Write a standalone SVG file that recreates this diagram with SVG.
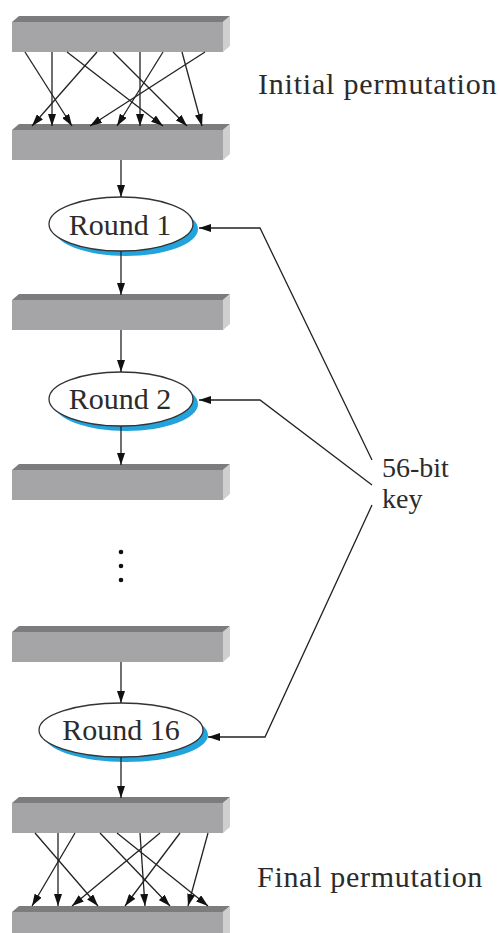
<svg xmlns="http://www.w3.org/2000/svg" xmlns:xlink="http://www.w3.org/1999/xlink" width="499" height="933" viewBox="0 0 499 933">
<style>
.lbl{font-family:"Liberation Serif","Times New Roman",serif;font-size:30px;fill:#2b2b2b}
.key{font-size:28px}
.ln{stroke:#222;stroke-width:1.3;fill:none;marker-end:url(#ah)}
.front{fill:#a5a5a7}
.top{fill:#7c7c7e}
.side{fill:#cfcfd1}
.ell{fill:#fff;stroke:#333;stroke-width:1.3}
.shadow{fill:#22a3dc}
</style>
<defs>
<marker id="ah" markerUnits="userSpaceOnUse" markerWidth="12" markerHeight="8" refX="12" refY="4" orient="auto">
<path d="M0,0 L12,4 L0,8 z" fill="#111"/>
</marker>
<g id="bar">
<polygon class="top" points="0,0 7,-6 218,-6 211,0"/>
<polygon class="side" points="211,0 218,-6 218,24 211,30"/>
<rect class="front" x="0" y="0" width="211" height="30"/>
</g>
</defs>
<rect width="499" height="933" fill="#fff"/>

<g id="bar1"><use xlink:href="#bar" href="#bar" transform="translate(12,22)"/></g>
<g id="bar2"><use xlink:href="#bar" href="#bar" transform="translate(12,130)"/></g>
<g id="bar3"><use xlink:href="#bar" href="#bar" transform="translate(12,300)"/></g>
<g id="bar4"><use xlink:href="#bar" href="#bar" transform="translate(12,470)"/></g>
<g id="bar5"><use xlink:href="#bar" href="#bar" transform="translate(12,632)"/></g>
<g id="bar6"><use xlink:href="#bar" href="#bar" transform="translate(12,803)"/></g>
<g id="bar7"><use xlink:href="#bar" href="#bar" transform="translate(12,912)"/></g>

<g id="round1">
<ellipse class="shadow" cx="126" cy="229" rx="72" ry="27"/>
<ellipse class="ell" cx="121" cy="224" rx="72" ry="27"/>
<text class="lbl" x="120" y="235" text-anchor="middle">Round 1</text>
</g>
<g id="round2">
<ellipse class="shadow" cx="126" cy="404" rx="72" ry="27"/>
<ellipse class="ell" cx="121" cy="399" rx="72" ry="27"/>
<text class="lbl" x="120" y="409" text-anchor="middle">Round 2</text>
</g>
<g id="round16">
<ellipse class="shadow" cx="126" cy="735" rx="82" ry="27"/>
<ellipse class="ell" cx="121" cy="730" rx="82" ry="27"/>
<text class="lbl" x="121" y="740" text-anchor="middle">Round 16</text>
</g>

<g id="dots" fill="#111">
<circle cx="121" cy="552" r="2.3"/>
<circle cx="121" cy="566" r="2.3"/>
<circle cx="121" cy="580" r="2.3"/>
</g>

<g id="labels">
<text class="lbl" x="258" y="94" letter-spacing="0.8">Initial permutation</text>
<text class="lbl" x="257" y="887" letter-spacing="0.7">Final permutation</text>
<text class="lbl key" x="382" y="477">56-bit</text>
<text class="lbl key" x="382" y="508">key</text>
</g>

<g id="connectors">
<line class="ln" x1="121" y1="160" x2="121" y2="197"/>
<line class="ln" x1="121" y1="251" x2="121" y2="295"/>
<line class="ln" x1="121" y1="330" x2="121" y2="372"/>
<line class="ln" x1="121" y1="426" x2="121" y2="465"/>
<line class="ln" x1="121" y1="662" x2="121" y2="703"/>
<line class="ln" x1="121" y1="757" x2="121" y2="798"/>

<line class="ln" x1="25" y1="52" x2="72" y2="126"/>
<line class="ln" x1="52" y1="52" x2="52" y2="126"/>
<line class="ln" x1="67" y1="52" x2="163" y2="126"/>
<line class="ln" x1="97" y1="52" x2="32" y2="126"/>
<line class="ln" x1="113" y1="52" x2="187" y2="126"/>
<line class="ln" x1="140" y1="52" x2="140" y2="126"/>
<line class="ln" x1="163" y1="52" x2="117" y2="126"/>
<line class="ln" x1="182" y1="52" x2="202" y2="126"/>
<line class="ln" x1="205" y1="52" x2="90" y2="126"/>

<line class="ln" x1="35" y1="833" x2="98" y2="906"/>
<line class="ln" x1="58" y1="833" x2="58" y2="906"/>
<line class="ln" x1="75" y1="833" x2="32" y2="906"/>
<line class="ln" x1="100" y1="833" x2="170" y2="906"/>
<line class="ln" x1="117" y1="833" x2="208" y2="906"/>
<line class="ln" x1="140" y1="833" x2="145" y2="906"/>
<line class="ln" x1="160" y1="833" x2="72" y2="906"/>
<line class="ln" x1="180" y1="833" x2="125" y2="906"/>
<line class="ln" x1="208" y1="833" x2="188" y2="906"/>

<polyline class="ln" points="372,460 260,228 199,228"/>
<polyline class="ln" points="372,485 260,400 199,400"/>
<polyline class="ln" points="372,505 265,737 208,737"/>
</g>
</svg>
